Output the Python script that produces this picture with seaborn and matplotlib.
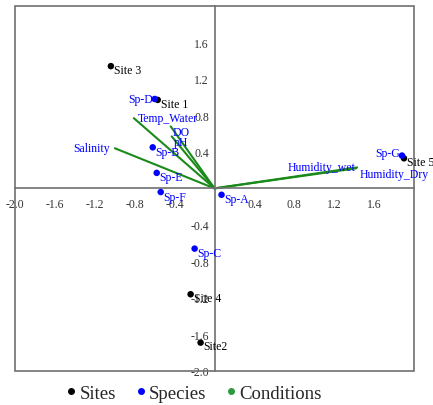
import matplotlib
matplotlib.use("Agg")
import matplotlib.pyplot as plt
from matplotlib.lines import Line2D
from matplotlib.patches import Rectangle
import pandas as pd
import seaborn as sns

# Sites (scores)
site_names = ["Site 1", "Site2", "Site 3", "Site 4", "Site 5"]
site_x = [-0.57, -0.14, -1.04, -0.24, 1.90]
site_y = [0.97, -1.69, 1.34, -1.16, 0.33]

# Species (scores)
species_names = ["Sp-A", "Sp-B", "Sp-C", "Sp-D", "Sp-E", "Sp-F", "Sp-G"]
species_x = [0.07, -0.62, -0.20, -0.60, -0.58, -0.54, 1.88]
species_y = [-0.07, 0.45, -0.66, 0.98, 0.17, -0.04, 0.36]

# Conditions (vector ends)
cond_names = ["Temp_Water", "DO", "pH", "Salinity", "Humidity_wet", "Humidity_Dry"]
cond_x = [-0.81, -0.44, -0.43, -1.00, 1.43, 1.42]
cond_y = [0.77, 0.68, 0.57, 0.44, 0.23, 0.22]

ticks = [-2.0, -1.6, -1.2, -0.8, -0.4, 0.4, 0.8, 1.2, 1.6]

sns.set_style("white")
plt.rcParams["font.family"] = ["Liberation Serif", "DejaVu Serif"]

fig = plt.figure(figsize=(4.33, 4.06), dpi=100)
ax = fig.add_axes([0.035, 0.084, 0.921, 0.899])

blue = "#0000ff"
green = "#1a8a1a"

# condition vectors
for cx, cy in zip(cond_x, cond_y):
    ax.plot([0, cx], [0, cy], color=green, lw=1.5, zorder=2)

sites = pd.DataFrame({"x": site_x, "y": site_y, "name": site_names})
species = pd.DataFrame({"x": species_x, "y": species_y, "name": species_names})
sns.scatterplot(data=sites, x="x", y="y", color="black", s=22, edgecolor="none", ax=ax, zorder=3)
sns.scatterplot(data=species, x="x", y="y", color=blue, s=22, edgecolor="none", ax=ax, zorder=3)

fs = 8.5
for _, r in sites.iterrows():
    ax.text(r.x + 0.03, r.y - 0.04, r["name"], color="black", fontsize=fs, va="center", ha="left")
for _, r in species.iterrows():
    if r["name"] == "Sp-D":
        ax.text(r.x - 0.02, r.y + 0.0, r["name"], color=blue, fontsize=fs, va="center", ha="right")
    elif r["name"] == "Sp-G":
        ax.text(r.x - 0.02, r.y + 0.03, r["name"], color=blue, fontsize=fs, va="center", ha="right")
    else:
        ax.text(r.x + 0.03, r.y - 0.05, r["name"], color=blue, fontsize=fs, va="center", ha="left")

cond_offsets = {
    "Temp_Water": (0.04, 0.0, "left"),
    "DO": (0.02, -0.06, "left"),
    "pH": (0.02, -0.06, "left"),
    "Salinity": (-0.05, 0.0, "right"),
    "Humidity_wet": (-0.02, 0.0, "right"),
    "Humidity_Dry": (0.03, -0.06, "left"),
}
for name, cx, cy in zip(cond_names, cond_x, cond_y):
    dx, dy, ha = cond_offsets[name]
    ax.text(cx + dx, cy + dy, name, color=blue, fontsize=fs, va="center", ha=ha)

ax.set_xlim(-2, 2)
ax.set_ylim(-2, 2)
ax.set_xlabel("")
ax.set_ylabel("")

# axes through the origin
for side in ["top", "right"]:
    ax.spines[side].set_visible(False)
ax.spines["left"].set_position("zero")
ax.spines["bottom"].set_position("zero")
for side in ["left", "bottom"]:
    ax.spines[side].set_color("#707070")
    ax.spines[side].set_linewidth(1.2)
ax.add_patch(Rectangle((0, 0), 1, 1, transform=ax.transAxes, fill=False,
                       edgecolor="#707070", lw=1.2, zorder=1, clip_on=False))

ax.set_xticks(ticks)
ax.set_yticks(ticks)
ax.set_xticklabels([f"{t:.1f}" for t in ticks])
ax.set_yticklabels([f"{t:.1f}" for t in ticks])
ax.tick_params(axis="both", which="both", length=3, width=0.8, color="#707070",
               labelsize=8.5, labelcolor="#333333", direction="out", pad=1)
ax.tick_params(axis="x", length=2, pad=5)

handles = [
    Line2D([], [], marker="o", ls="", color="black", markersize=4, label="Sites"),
    Line2D([], [], marker="o", ls="", color=blue, markersize=4, label="Species"),
    Line2D([], [], marker="o", ls="", color="#2e9a40", markersize=4, label="Conditions"),
]
fig.legend(handles=handles, loc="lower center", bbox_to_anchor=(0.445, 0.008), ncol=3,
           frameon=False, fontsize=13.5, handletextpad=0.05, columnspacing=0.9,
           handlelength=0.8, borderpad=0.0, borderaxespad=0.0)

fig.savefig("out.png", dpi=100)
